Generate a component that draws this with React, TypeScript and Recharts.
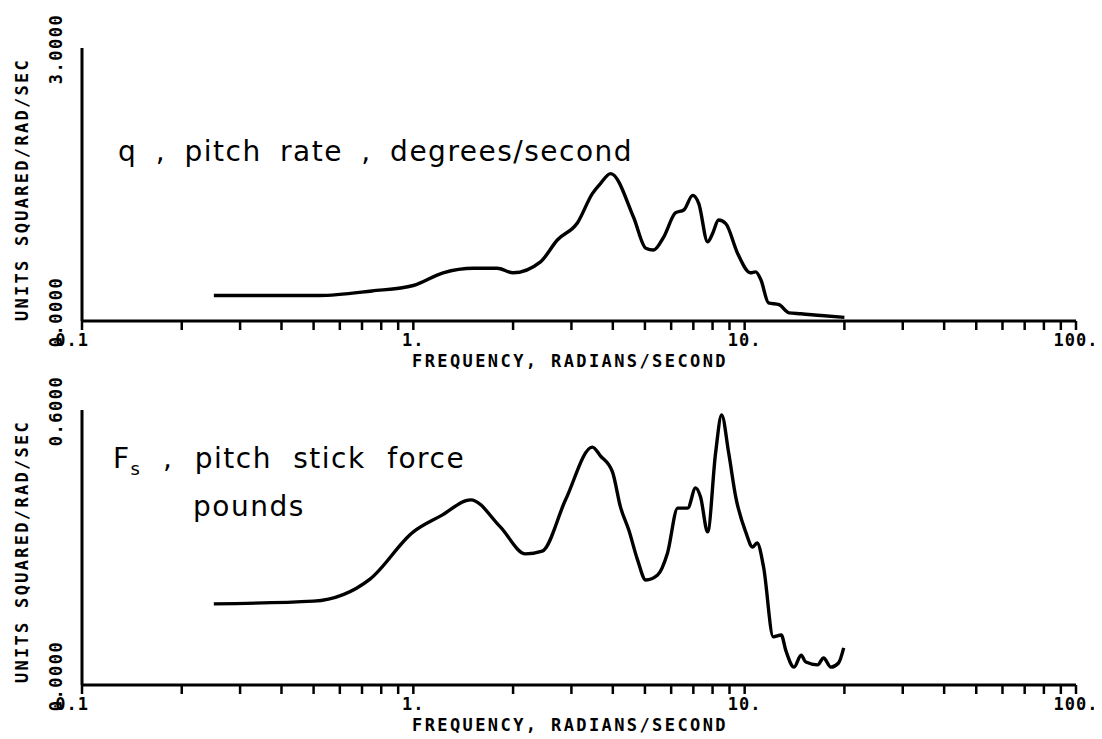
import React from "react";
import { LineChart, Line, XAxis, YAxis } from "recharts";

// ---- data ----
const qFreq = [0.25, 0.52, 0.75, 1.0, 1.23, 1.52, 1.79, 2.0, 2.42, 2.72, 3.13, 3.47, 3.67, 3.94, 4.62, 5.03, 5.31, 5.69, 6.19, 6.55, 6.97, 7.27, 7.73, 8.0, 8.34, 8.77, 9.53, 10.4, 10.8, 11.2, 11.8, 12.7, 13.6, 14.8, 17.0, 20.0];
const qVals = [0.28, 0.28, 0.33, 0.39, 0.53, 0.58, 0.58, 0.53, 0.65, 0.89, 1.08, 1.40, 1.51, 1.62, 1.14, 0.80, 0.78, 0.92, 1.19, 1.22, 1.38, 1.29, 0.87, 0.96, 1.11, 1.07, 0.74, 0.53, 0.54, 0.45, 0.20, 0.18, 0.09, 0.08, 0.06, 0.04];

const fsFreq = [0.25, 0.5, 0.74, 1.0, 1.21, 1.49, 1.83, 2.18, 2.45, 2.88, 3.47, 3.67, 3.99, 4.22, 4.47, 4.75, 5.03, 5.46, 5.85, 6.28, 6.73, 7.11, 7.36, 7.73, 8.17, 8.52, 8.95, 9.4, 10.07, 10.57, 10.9, 11.4, 12.2, 12.9, 13.3, 14.1, 14.8, 15.3, 16.6, 17.3, 18.2, 19.2, 19.9];
const fsVals = [0.177, 0.183, 0.231, 0.334, 0.369, 0.404, 0.345, 0.286, 0.292, 0.404, 0.519, 0.50, 0.465, 0.388, 0.338, 0.273, 0.229, 0.240, 0.288, 0.386, 0.386, 0.430, 0.410, 0.334, 0.506, 0.589, 0.506, 0.410, 0.334, 0.301, 0.310, 0.258, 0.105, 0.109, 0.076, 0.039, 0.065, 0.050, 0.044, 0.059, 0.039, 0.048, 0.081];

const xTicks = [0.1, 0.2, 0.3, 0.4, 0.5, 0.6, 0.7, 0.8, 0.9, 1, 2, 3, 4, 5, 6, 7, 8, 9, 10, 20, 30, 40, 50, 60, 70, 80, 90, 100];
const xTickLabels: Record<string, string> = { "0.1": "0.1", "1": "1.", "10": "10.", "100": "100." };
const qYTicks = [0, 3];
const qYLabels = ["0.0000", "3.0000"];
const fsYTicks = [0, 0.6];
const fsYLabels = ["0.0000", "0.6000"];

const xTitle = "FREQUENCY, RADIANS/SECOND";
const yTitle = "UNITS SQUARED/RAD/SEC";

const qData = qFreq.map((f, i) => ({ f, v: qVals[i] }));
const fsData = fsFreq.map((f, i) => ({ f, v: fsVals[i] }));

const FONT = "'DejaVu Sans Mono', monospace";
const HAND = "'DejaVu Sans', sans-serif";

const XTick = (props: any) => {
  const { x, y, payload } = props;
  const lab = xTickLabels[String(payload.value)];
  if (!lab) return null;
  const isFirst = payload.value === 0.1;
  return (
    <text
      x={isFirst ? x + 7 : x}
      y={y + 14}
      textAnchor={isFirst ? "end" : "middle"}
      fontFamily={FONT}
      fontWeight="bold"
      fontSize={17}
      letterSpacing={1}
      fill="#000"
    >
      {lab}
    </text>
  );
};

const makeYTick = (labels: string[], ticks: number[]) => (props: any) => {
  const { y, payload } = props;
  const idx = ticks.indexOf(payload.value);
  const lab = labels[idx] ?? "";
  const cy = y + (idx === 0 ? -9 : 1);
  const cx = 54;
  return (
    <text
      x={cx}
      y={cy}
      transform={`rotate(-90, ${cx}, ${cy})`}
      textAnchor="middle"
      fontFamily={FONT}
      fontWeight="bold"
      fontSize={17}
      letterSpacing={1.5}
      fill="#000"
    >
      {lab}
    </text>
  );
};

const XTitle = (props: any) => {
  const { viewBox } = props;
  return (
    <text
      x={viewBox.x + 488}
      y={viewBox.y + 46}
      textAnchor="middle"
      fontFamily={FONT}
      fontWeight="bold"
      fontSize={17}
      letterSpacing={2.4}
      fill="#000"
    >
      {xTitle}
    </text>
  );
};

const YTitle = (shift: number) => (props: any) => {
  const { viewBox } = props;
  const cx = 20;
  const cy = viewBox.y + viewBox.height / 2 + shift;
  return (
    <text
      x={cx}
      y={cy}
      transform={`rotate(-90, ${cx}, ${cy})`}
      textAnchor="middle"
      fontFamily={FONT}
      fontWeight="bold"
      fontSize={17}
      letterSpacing={2.3}
      fill="#000"
    >
      {yTitle}
    </text>
  );
};

const W = 1094;

function Panel({ data, height, top, bottom, yMax, yTicks, yLabels, shift }: any) {
  return (
    <LineChart width={W} height={height} data={data} margin={{ top, right: 26, bottom, left: 14 }}>
      <XAxis
        dataKey="f"
        type="number"
        scale="log"
        domain={[0.1, 100]}
        allowDataOverflow
        ticks={xTicks}
        interval={0}
        tick={<XTick />}
        tickSize={9}
        tickLine={{ stroke: "#000", strokeWidth: 2.5 }}
        axisLine={{ stroke: "#000", strokeWidth: 3 }}
        height={45}
        label={<XTitle />}
      />
      <YAxis
        type="number"
        domain={[0, yMax]}
        ticks={yTicks}
        interval={0}
        width={60}
        tick={makeYTick(yLabels, yTicks)}
        tickLine={false}
        axisLine={{ stroke: "#000", strokeWidth: 3 }}
        label={YTitle(shift)}
      />
      <Line
        dataKey="v"
        type="monotone"
        stroke="#000"
        strokeWidth={3.4}
        dot={false}
        isAnimationActive={false}
      />
    </LineChart>
  );
}

const handStyle: React.CSSProperties = {
  position: "absolute",
  fontFamily: HAND,
  fontWeight: 400,
  fontSize: 28,
  letterSpacing: 1.5,
  whiteSpace: "nowrap",
  color: "#000",
};

export default function App() {
  return (
    <div style={{ position: "relative", width: W, height: 731, background: "#fff" }}>
      <Panel data={qData} height={365} top={40} bottom={7} yMax={3} yTicks={qYTicks} yLabels={qYLabels} shift={5} />
      <Panel data={fsData} height={366} top={37} bottom={9} yMax={0.6} yTicks={fsYTicks} yLabels={fsYLabels} shift={4} />
      <div style={{ ...handStyle, left: 110, top: 129, lineHeight: "30px", wordSpacing: 8 }}>
        q , pitch rate , degrees/second
      </div>
      <div style={{ ...handStyle, left: 105, top: 433, lineHeight: "36px", wordSpacing: 11 }}>
        <div>
          F<sub style={{ fontSize: 18 }}>s</sub> , pitch stick force
        </div>
        <div style={{ paddingLeft: 80, marginTop: 2 }}>pounds</div>
      </div>
    </div>
  );
}
